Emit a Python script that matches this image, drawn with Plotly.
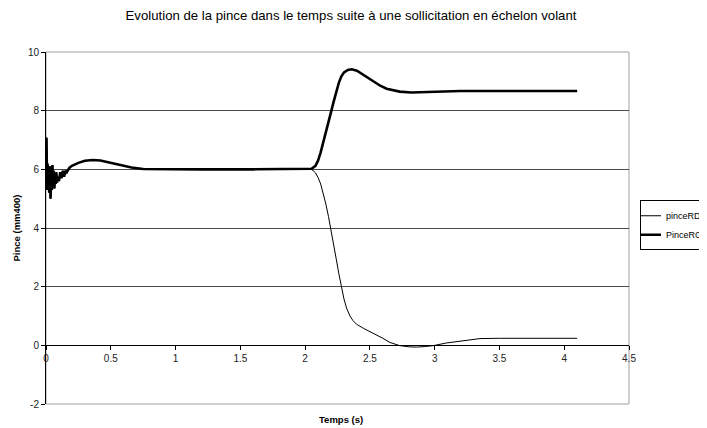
import plotly.graph_objects as go

# Shared start (both signals coincide until ~2 s)
early_t = [0, 0.004, 0.008, 0.012, 0.016, 0.02, 0.025, 0.03, 0.035, 0.04, 0.045,
           0.05, 0.055, 0.06, 0.065, 0.07, 0.075, 0.08, 0.085, 0.09, 0.1, 0.11,
           0.12, 0.13, 0.14, 0.15, 0.16, 0.18, 0.2, 0.25, 0.3, 0.36, 0.42, 0.5,
           0.58, 0.66, 0.75, 0.9, 1.2, 1.6, 2.0]
early_v = [5.8, 7.08, 5.3, 6.2, 5.4, 5.9, 5.2, 6.1, 5.0, 5.7, 5.3,
           6.15, 5.4, 5.95, 5.35, 5.85, 5.5, 5.9, 5.55, 5.75, 5.6, 5.9,
           5.7, 5.95, 5.75, 5.95, 5.9, 6.05, 6.12, 6.22, 6.29, 6.32, 6.3, 6.22,
           6.13, 6.06, 6.01, 6.0, 6.0, 6.0, 6.0]

# PinceRG after the step
rg_t = [2.05, 2.08, 2.1, 2.12, 2.14, 2.16, 2.18, 2.2, 2.22, 2.24, 2.26, 2.28,
        2.3, 2.33, 2.36, 2.4, 2.436, 2.48, 2.526, 2.58, 2.629, 2.68, 2.73,
        2.82, 2.9, 3.0, 3.2, 4.1]
rg_v = [6.02, 6.12, 6.3, 6.58, 6.9, 7.25, 7.6, 7.95, 8.3, 8.65, 8.95, 9.17,
        9.3, 9.39, 9.41, 9.36, 9.26, 9.12, 8.98, 8.85, 8.75, 8.69, 8.65,
        8.62, 8.63, 8.66, 8.67, 8.67]

# pinceRD after the step
rd_t = [2.05, 2.08, 2.1, 2.12, 2.14, 2.16, 2.18, 2.2, 2.22, 2.24, 2.26, 2.28,
        2.3, 2.32, 2.346, 2.37, 2.397, 2.45, 2.525, 2.6, 2.654, 2.7, 2.73,
        2.8, 2.86, 2.93, 2.99, 3.09, 3.2, 3.35, 3.5, 4.1]
rd_v = [6.0, 5.88, 5.72, 5.5, 5.2, 4.82, 4.4, 3.95, 3.45, 2.95, 2.45, 1.98,
        1.58, 1.27, 1.0, 0.84, 0.72, 0.58, 0.42, 0.24, 0.1, 0.02, -0.01,
        -0.05, -0.06, -0.04, -0.01, 0.08, 0.15, 0.23, 0.24, 0.24]

x_ticks = [0, 0.5, 1, 1.5, 2, 2.5, 3, 3.5, 4, 4.5]
x_labels = ["0", "0.5", "1", "1.5", "2", "2.5", "3", "3.5", "4", "4.5"]
y_ticks = [-2, 0, 2, 4, 6, 8, 10]
y_labels = ["-2", "0", "2", "4", "6", "8", "10"]

FONT = "Liberation Sans, Arial, sans-serif"

fig = go.Figure()
fig.add_trace(go.Scatter(x=early_t + rd_t, y=early_v + rd_v, mode="lines",
                         name="pinceRD", line=dict(color="black", width=1)))
fig.add_trace(go.Scatter(x=early_t + rg_t, y=early_v + rg_v, mode="lines",
                         name="PinceRG", line=dict(color="black", width=2.6)))

# page body adds an 8px offset; margins compensate
L, R, T, B = 38, 86, 44, 31.5
PW = 707 - L - R
PH = 428 - T - B

fig.update_layout(
    width=707, height=428,
    margin=dict(l=L, r=R, t=T, b=B, autoexpand=False),
    paper_bgcolor="white", plot_bgcolor="white",
    font=dict(family=FONT, color="black"),
    title=dict(text="Evolution de la pince dans le temps suite à une sollicitation en échelon volant",
               x=343 / 707, xanchor="center", y=1 - 7 / 428, yanchor="middle", yref="container",
               font=dict(size=13.2, color="black")),
    xaxis=dict(range=[0, 4.5], tickvals=x_ticks, ticktext=x_labels,
               showgrid=False, zeroline=False, showline=True, linecolor="black", linewidth=1,
               ticks="outside", ticklen=4, tickcolor="black",
               tickfont=dict(size=10, color="#222"),
               anchor="free", position=2 / 12, automargin=False),
    yaxis=dict(range=[-2, 10], tickvals=y_ticks, ticktext=y_labels,
               showgrid=True, gridcolor="#4a4a4a", gridwidth=1, zeroline=False,
               showline=True, linecolor="black", linewidth=1,
               ticks="outside", ticklen=4, tickcolor="black",
               tickfont=dict(size=10, color="#222"), automargin=False,
               title=dict(text="<b>Pince (mm400)</b>", font=dict(size=9.5), standoff=5)),
    legend=dict(x=(632 - L) / PW, y=(396.5 - 217.5) / PH, xanchor="left", yanchor="middle",
                bgcolor="white", bordercolor="black", borderwidth=1, indentation=-15,
                font=dict(size=9, color="black"), itemwidth=30, tracegroupgap=0),
    showlegend=True,
)

# plot area frame (gray, as in the original)
fig.add_shape(type="rect", xref="paper", yref="paper", x0=0, x1=1, y0=0, y1=1,
              line=dict(color="#a0a0a0", width=1), layer="below")

fig.add_annotation(text="<b>Temps (s)</b>", xref="paper", yref="paper",
                   x=(333 - L) / PW, y=-(412 - 396.5) / PH, xanchor="center", yanchor="middle",
                   showarrow=False, font=dict(size=9.5, color="black"))

fig.write_html("out.html")
